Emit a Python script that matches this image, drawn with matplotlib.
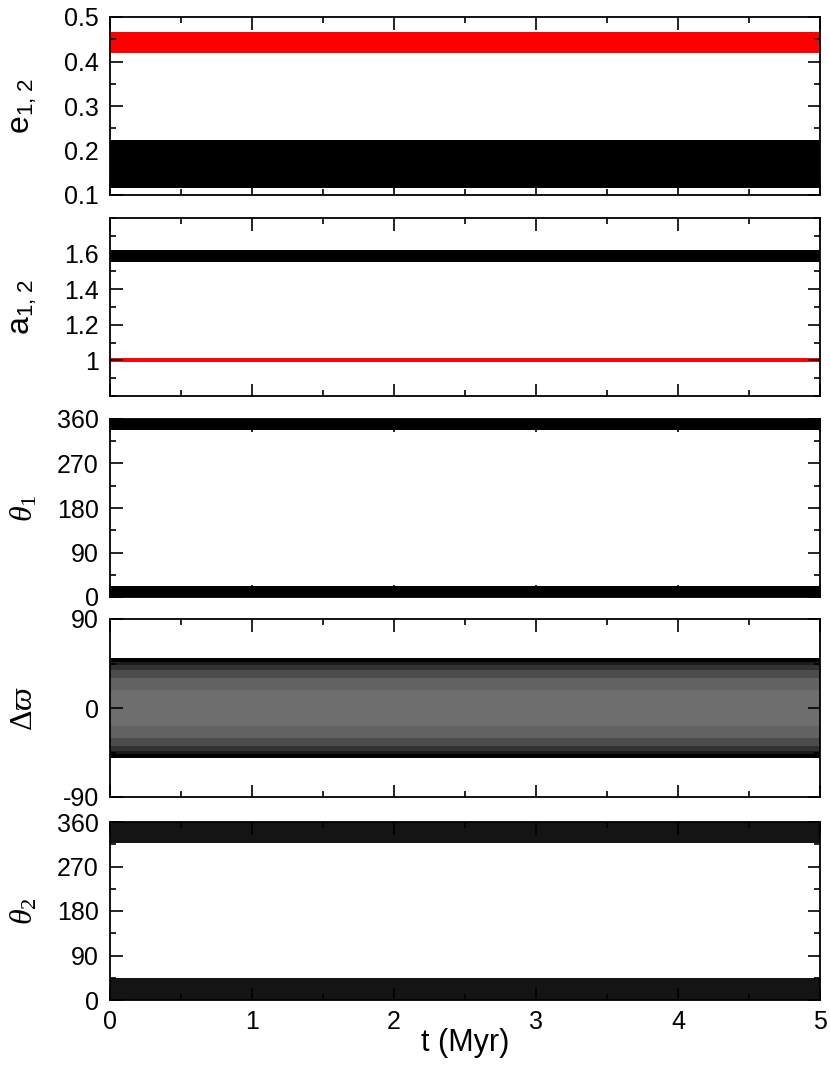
import numpy as np
import matplotlib
matplotlib.use("Agg")
import matplotlib.pyplot as plt
from matplotlib.ticker import MultipleLocator

plt.rcParams['font.family'] = ['Liberation Sans', 'DejaVu Sans']
plt.rcParams['mathtext.fontset'] = 'custom'
plt.rcParams['mathtext.rm'] = 'Liberation Serif'
plt.rcParams['mathtext.it'] = 'Liberation Serif:italic'
plt.rcParams['mathtext.sf'] = 'Liberation Sans'
plt.rcParams['axes.unicode_minus'] = False

# envelope of the oscillating series (t in Myr)
t_myr = [0, 1, 2, 3, 4, 5]

e1_lo = [0.115, 0.115, 0.115, 0.115, 0.115, 0.115]
e1_hi = [0.224, 0.224, 0.224, 0.224, 0.224, 0.224]
e2_lo = [0.418, 0.418, 0.418, 0.418, 0.418, 0.418]
e2_hi = [0.466, 0.466, 0.466, 0.466, 0.466, 0.466]

a1_lo = [1.555, 1.555, 1.555, 1.555, 1.555, 1.555]
a1_hi = [1.618, 1.618, 1.618, 1.618, 1.618, 1.618]
a2 = [1.0, 1.0, 1.0, 1.0, 1.0, 1.0]

th1_low_hi = [22, 22, 22, 22, 22, 22]      # band 0 .. 22
th1_up_lo = [337, 337, 337, 337, 337, 337]  # band 337 .. 360

# delta varpi: points pile up at the turning points, sparser in the middle
dw_levels = [51, 47, 43, 38, 30, 18]
dw_shades = ['#000000', '#1c1c1c', '#333333', '#4c4c4c', '#626262', '#6e6e6e']

th2_low_hi = [44, 44, 44, 44, 44, 44]
th2_up_lo = [318, 318, 318, 318, 318, 318]

fig = plt.figure(figsize=(8.3, 10.7), dpi=100)
W, H = 830, 1070
left, right = 110, 820
tops = [17, 218, 419, 619, 822]
ph = 178
axes = []
for tp in tops:
    ax = fig.add_axes([left / W, 1 - (tp + ph) / H, (right - left) / W, ph / H])
    axes.append(ax)

t = np.array(t_myr, dtype=float)

# e panel
ax = axes[0]
ax.fill_between(t, e2_lo, e2_hi, color='red', lw=0)
ax.fill_between(t, e1_lo, e1_hi, color='black', lw=0)
ax.set_ylim(0.1, 0.5)
ax.set_yticks([0.1, 0.2, 0.3, 0.4, 0.5])
ax.set_yticklabels(['0.1', '0.2', '0.3', '0.4', '0.5'])
ax.yaxis.set_minor_locator(MultipleLocator(0.05))
ax.set_ylabel(r'$\mathsf{e}_{\mathsf{1,\,2}}$')

# a panel
ax = axes[1]
ax.fill_between(t, a1_lo, a1_hi, color='black', lw=0)
ax.plot(t, a2, color='red', lw=2.8)
ax.set_ylim(0.8, 1.8)
ax.set_yticks([1.0, 1.2, 1.4, 1.6])
ax.set_yticklabels(['1', '1.2', '1.4', '1.6'])
ax.yaxis.set_minor_locator(MultipleLocator(0.1))
ax.set_ylabel(r'$\mathsf{a}_{\mathsf{1,\,2}}$')

# theta1 panel
ax = axes[2]
ax.fill_between(t, 0, th1_low_hi, color='black', lw=0)
ax.fill_between(t, th1_up_lo, 360, color='black', lw=0)
ax.set_ylim(0, 360)
ax.set_yticks([0, 90, 180, 270, 360])
ax.yaxis.set_minor_locator(MultipleLocator(45))
ax.set_ylabel(r'$\theta_1$')

# delta varpi panel
ax = axes[3]
for lev, shade in zip(dw_levels, dw_shades):
    ax.fill_between(t, -lev, lev, color=shade, lw=0)
ax.set_ylim(-90, 90)
ax.set_yticks([-90, 0, 90])
ax.yaxis.set_minor_locator(MultipleLocator(45))
ax.set_ylabel(r'$\mathit{\Delta}\varpi$')

# theta2 panel
ax = axes[4]
ax.fill_between(t, 0, th2_low_hi, color='#141414', lw=0)
ax.fill_between(t, th2_up_lo, 360, color='#141414', lw=0)
ax.set_ylim(0, 360)
ax.set_yticks([0, 90, 180, 270, 360])
ax.yaxis.set_minor_locator(MultipleLocator(45))
ax.set_ylabel(r'$\theta_2$')
ax.set_xlabel('t (Myr)', fontsize=22, labelpad=-4)

for i, ax in enumerate(axes):
    ax.set_xlim(0, 5)
    ax.xaxis.set_major_locator(MultipleLocator(1))
    ax.xaxis.set_minor_locator(MultipleLocator(0.5))
    ax.tick_params(which='both', direction='in', top=True, right=True,
                   labelsize=18, width=1.2)
    ax.tick_params(which='major', length=9)
    ax.tick_params(which='minor', length=4.5)
    ax.tick_params(axis='y', pad=8)
    ax.tick_params(axis='x', pad=7)
    ax.yaxis.label.set_size(23)
    ax.yaxis.set_label_coords(-0.1, 0.5)
    for sp in ax.spines.values():
        sp.set_linewidth(1.3)
    if i < 4:
        ax.tick_params(labelbottom=False)
    ax.set_axisbelow(False)

fig.savefig('out.png', dpi=100)
